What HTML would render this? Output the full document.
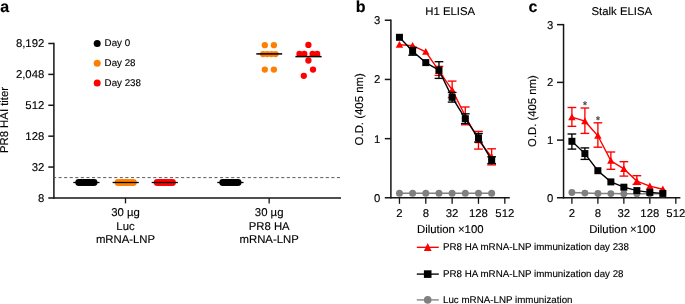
<!DOCTYPE html>
<html><head><meta charset="utf-8"><title>Figure</title>
<style>
html,body{margin:0;padding:0;background:#fff;}
body{width:685px;height:304px;overflow:hidden;}
svg{display:block;will-change:transform;text-rendering:geometricPrecision;font-family:'Liberation Sans', sans-serif;}
</style></head>
<body>
<svg width="685" height="304" viewBox="0 0 685 304">
<rect width="685" height="304" fill="#fff"/>
<text x="0.3" y="12.1" font-size="16" text-anchor="start" font-weight="bold" fill="#000" stroke="#000" stroke-width="0.13">a</text>
<line x1="53.9" y1="42.75" x2="53.9" y2="198.7" stroke="#151515" stroke-width="1.5" />
<line x1="48.3" y1="197.95" x2="341" y2="197.95" stroke="#151515" stroke-width="1.5" />
<line x1="48.3" y1="43.5" x2="53.9" y2="43.5" stroke="#151515" stroke-width="1.5" />
<text x="44.3" y="47.45" font-size="11.35" text-anchor="end" font-weight="normal" fill="#000" stroke="#000" stroke-width="0.13">8,192</text>
<line x1="48.3" y1="74.39" x2="53.9" y2="74.39" stroke="#151515" stroke-width="1.5" />
<text x="44.3" y="78.34" font-size="11.35" text-anchor="end" font-weight="normal" fill="#000" stroke="#000" stroke-width="0.13">2,048</text>
<line x1="48.3" y1="105.28" x2="53.9" y2="105.28" stroke="#151515" stroke-width="1.5" />
<text x="44.3" y="109.23" font-size="11.35" text-anchor="end" font-weight="normal" fill="#000" stroke="#000" stroke-width="0.13">512</text>
<line x1="48.3" y1="136.17" x2="53.9" y2="136.17" stroke="#151515" stroke-width="1.5" />
<text x="44.3" y="140.11999999999998" font-size="11.35" text-anchor="end" font-weight="normal" fill="#000" stroke="#000" stroke-width="0.13">128</text>
<line x1="48.3" y1="167.06" x2="53.9" y2="167.06" stroke="#151515" stroke-width="1.5" />
<text x="44.3" y="171.01" font-size="11.35" text-anchor="end" font-weight="normal" fill="#000" stroke="#000" stroke-width="0.13">32</text>
<text x="44.3" y="201.89999999999998" font-size="11.35" text-anchor="end" font-weight="normal" fill="#000" stroke="#000" stroke-width="0.13">8</text>
<text x="7.8" y="120" font-size="11.35" text-anchor="middle" font-weight="normal" fill="#000" stroke="#000" stroke-width="0.13" transform="rotate(-90 7.8 120)">PR8 HAI titer</text>
<line x1="53.0" y1="177.6" x2="341" y2="177.6" stroke="#4a4a4a" stroke-width="0.9" stroke-dasharray="3.1 2.467"/>
<line x1="125.5" y1="197.95" x2="125.5" y2="203.4" stroke="#151515" stroke-width="1.3" />
<text x="125.5" y="216.15" font-size="11.35" text-anchor="middle" font-weight="normal" fill="#000" stroke="#000" stroke-width="0.13">30 µg</text>
<text x="125.5" y="229.9" font-size="11.35" text-anchor="middle" font-weight="normal" fill="#000" stroke="#000" stroke-width="0.13">Luc</text>
<text x="125.5" y="243.3" font-size="11.35" text-anchor="middle" font-weight="normal" fill="#000" stroke="#000" stroke-width="0.13">mRNA-LNP</text>
<line x1="269.15" y1="197.95" x2="269.15" y2="203.4" stroke="#151515" stroke-width="1.3" />
<text x="269.15" y="216.15" font-size="11.35" text-anchor="middle" font-weight="normal" fill="#000" stroke="#000" stroke-width="0.13">30 µg</text>
<text x="269.15" y="229.9" font-size="11.35" text-anchor="middle" font-weight="normal" fill="#000" stroke="#000" stroke-width="0.13">PR8 HA</text>
<text x="269.15" y="243.3" font-size="11.35" text-anchor="middle" font-weight="normal" fill="#000" stroke="#000" stroke-width="0.13">mRNA-LNP</text>
<circle cx="97.2" cy="43.5" r="3.5" fill="#000"/>
<text x="104.6" y="46.2" font-size="9.75" text-anchor="start" font-weight="normal" fill="#000" stroke="#000" stroke-width="0.13">Day 0</text>
<circle cx="97.2" cy="63.2" r="3.5" fill="#ff8000"/>
<text x="104.6" y="65.9" font-size="9.75" text-anchor="start" font-weight="normal" fill="#000" stroke="#000" stroke-width="0.13">Day 28</text>
<circle cx="97.2" cy="82.9" r="3.5" fill="#ff0000"/>
<text x="104.6" y="85.60000000000001" font-size="9.75" text-anchor="start" font-weight="normal" fill="#000" stroke="#000" stroke-width="0.13">Day 238</text>
<circle cx="78.7" cy="182.5" r="3.4" fill="#000"/>
<circle cx="80.9" cy="182.5" r="3.4" fill="#000"/>
<circle cx="83.1" cy="182.5" r="3.4" fill="#000"/>
<circle cx="85.3" cy="182.5" r="3.4" fill="#000"/>
<circle cx="87.5" cy="182.5" r="3.4" fill="#000"/>
<circle cx="89.7" cy="182.5" r="3.4" fill="#000"/>
<circle cx="91.9" cy="182.5" r="3.4" fill="#000"/>
<circle cx="94.1" cy="182.5" r="3.4" fill="#000"/>
<line x1="73.30000000000001" y1="182.5" x2="99.5" y2="182.5" stroke="#000" stroke-width="1.3" />
<circle cx="118.0" cy="182.5" r="3.4" fill="#ff8000"/>
<circle cx="120.2" cy="182.5" r="3.4" fill="#ff8000"/>
<circle cx="122.4" cy="182.5" r="3.4" fill="#ff8000"/>
<circle cx="124.6" cy="182.5" r="3.4" fill="#ff8000"/>
<circle cx="126.8" cy="182.5" r="3.4" fill="#ff8000"/>
<circle cx="129.0" cy="182.5" r="3.4" fill="#ff8000"/>
<circle cx="131.2" cy="182.5" r="3.4" fill="#ff8000"/>
<circle cx="133.4" cy="182.5" r="3.4" fill="#ff8000"/>
<line x1="112.60000000000001" y1="182.5" x2="138.8" y2="182.5" stroke="#000" stroke-width="1.3" />
<circle cx="157.1" cy="182.5" r="3.4" fill="#ff0000"/>
<circle cx="159.3" cy="182.5" r="3.4" fill="#ff0000"/>
<circle cx="161.5" cy="182.5" r="3.4" fill="#ff0000"/>
<circle cx="163.7" cy="182.5" r="3.4" fill="#ff0000"/>
<circle cx="165.9" cy="182.5" r="3.4" fill="#ff0000"/>
<circle cx="168.1" cy="182.5" r="3.4" fill="#ff0000"/>
<circle cx="170.3" cy="182.5" r="3.4" fill="#ff0000"/>
<circle cx="172.5" cy="182.5" r="3.4" fill="#ff0000"/>
<line x1="151.70000000000002" y1="182.5" x2="177.9" y2="182.5" stroke="#000" stroke-width="1.3" />
<circle cx="222.7" cy="182.5" r="3.4" fill="#000"/>
<circle cx="224.9" cy="182.5" r="3.4" fill="#000"/>
<circle cx="227.1" cy="182.5" r="3.4" fill="#000"/>
<circle cx="229.3" cy="182.5" r="3.4" fill="#000"/>
<circle cx="231.5" cy="182.5" r="3.4" fill="#000"/>
<circle cx="233.7" cy="182.5" r="3.4" fill="#000"/>
<circle cx="235.9" cy="182.5" r="3.4" fill="#000"/>
<circle cx="238.1" cy="182.5" r="3.4" fill="#000"/>
<line x1="217.3" y1="182.5" x2="243.5" y2="182.5" stroke="#000" stroke-width="1.3" />
<circle cx="264.8" cy="45.2" r="3.15" fill="#ff8000"/>
<circle cx="273.9" cy="45.2" r="3.15" fill="#ff8000"/>
<circle cx="263.1" cy="54.1" r="3.15" fill="#ff8000"/>
<circle cx="267.25" cy="54.1" r="3.15" fill="#ff8000"/>
<circle cx="271.4" cy="54.1" r="3.15" fill="#ff8000"/>
<circle cx="275.5" cy="54.1" r="3.15" fill="#ff8000"/>
<circle cx="264.8" cy="69.6" r="3.15" fill="#ff8000"/>
<circle cx="273.9" cy="69.6" r="3.15" fill="#ff8000"/>
<line x1="256.3" y1="53.9" x2="282.2" y2="53.9" stroke="#000" stroke-width="1.5" />
<circle cx="308.4" cy="44.9" r="3.15" fill="#ff0000"/>
<circle cx="299.5" cy="53.95" r="3.15" fill="#ff0000"/>
<circle cx="304.3" cy="53.95" r="3.15" fill="#ff0000"/>
<circle cx="312.6" cy="53.95" r="3.15" fill="#ff0000"/>
<circle cx="317.2" cy="53.95" r="3.15" fill="#ff0000"/>
<circle cx="308.4" cy="60.5" r="3.15" fill="#ff0000"/>
<circle cx="313" cy="69.6" r="3.15" fill="#ff0000"/>
<circle cx="303.8" cy="75.8" r="3.15" fill="#ff0000"/>
<line x1="295.4" y1="56.6" x2="321.6" y2="56.6" stroke="#000" stroke-width="1.5" />
<text x="355.85" y="11.9" font-size="16" text-anchor="start" font-weight="bold" fill="#000" stroke="#000" stroke-width="0.13">b</text>
<text x="450.2" y="15.15" font-size="11.35" text-anchor="middle" font-weight="normal" fill="#000" stroke="#000" stroke-width="0.13">H1 ELISA</text>
<line x1="390.9" y1="19.5" x2="390.9" y2="198.6" stroke="#151515" stroke-width="1.5" />
<line x1="384.8" y1="197.85" x2="509.8" y2="197.85" stroke="#151515" stroke-width="1.5" />
<line x1="384.8" y1="20.25" x2="390.9" y2="20.25" stroke="#151515" stroke-width="1.5" />
<text x="380.4" y="24.2" font-size="11.3" text-anchor="end" font-weight="normal" fill="#000" stroke="#000" stroke-width="0.13">3</text>
<line x1="384.8" y1="79.44999999999999" x2="390.9" y2="79.44999999999999" stroke="#151515" stroke-width="1.5" />
<text x="380.4" y="83.39999999999999" font-size="11.3" text-anchor="end" font-weight="normal" fill="#000" stroke="#000" stroke-width="0.13">2</text>
<line x1="384.8" y1="138.64999999999998" x2="390.9" y2="138.64999999999998" stroke="#151515" stroke-width="1.5" />
<text x="380.4" y="142.59999999999997" font-size="11.3" text-anchor="end" font-weight="normal" fill="#000" stroke="#000" stroke-width="0.13">1</text>
<text x="380.4" y="201.79999999999998" font-size="11.3" text-anchor="end" font-weight="normal" fill="#000" stroke="#000" stroke-width="0.13">0</text>
<text x="363.45" y="109.3" font-size="11.4" text-anchor="middle" font-weight="normal" fill="#000" stroke="#000" stroke-width="0.13" transform="rotate(-90 363.45 109.3)">O.D. (405 nm)</text>
<line x1="399.45" y1="197.85" x2="399.45" y2="203.8" stroke="#151515" stroke-width="1.3" />
<text x="399.45" y="216.9" font-size="11.35" text-anchor="middle" font-weight="normal" fill="#000" stroke="#000" stroke-width="0.13">2</text>
<line x1="425.78999999999996" y1="197.85" x2="425.78999999999996" y2="203.8" stroke="#151515" stroke-width="1.3" />
<text x="425.78999999999996" y="216.9" font-size="11.35" text-anchor="middle" font-weight="normal" fill="#000" stroke="#000" stroke-width="0.13">8</text>
<line x1="452.13" y1="197.85" x2="452.13" y2="203.8" stroke="#151515" stroke-width="1.3" />
<text x="452.13" y="216.9" font-size="11.35" text-anchor="middle" font-weight="normal" fill="#000" stroke="#000" stroke-width="0.13">32</text>
<line x1="478.46999999999997" y1="197.85" x2="478.46999999999997" y2="203.8" stroke="#151515" stroke-width="1.3" />
<text x="478.46999999999997" y="216.9" font-size="11.35" text-anchor="middle" font-weight="normal" fill="#000" stroke="#000" stroke-width="0.13">128</text>
<line x1="504.81" y1="197.85" x2="504.81" y2="203.8" stroke="#151515" stroke-width="1.3" />
<text x="504.81" y="216.9" font-size="11.35" text-anchor="middle" font-weight="normal" fill="#000" stroke="#000" stroke-width="0.13">512</text>
<text x="450.3" y="233.4" font-size="11.35" text-anchor="middle" font-weight="normal" fill="#000" stroke="#000" stroke-width="0.13">Dilution ×100</text>
<polyline points="399.45,193.15 491.64,193.15" fill="none" stroke="#808080" stroke-width="1.5"/>
<circle cx="399.45" cy="193.15" r="3.5" fill="#808080"/>
<circle cx="412.62" cy="193.15" r="3.5" fill="#808080"/>
<circle cx="425.78999999999996" cy="193.15" r="3.5" fill="#808080"/>
<circle cx="438.96" cy="193.15" r="3.5" fill="#808080"/>
<circle cx="452.13" cy="193.15" r="3.5" fill="#808080"/>
<circle cx="465.29999999999995" cy="193.15" r="3.5" fill="#808080"/>
<circle cx="478.46999999999997" cy="193.15" r="3.5" fill="#808080"/>
<circle cx="491.64" cy="193.15" r="3.5" fill="#808080"/>
<polyline points="399.45,44.7 412.62,45.6 425.78999999999996,51.8 438.96,70.9 452.13,89.9 465.29999999999995,116.0 478.46999999999997,140.2 491.64,157.0" fill="none" stroke="#ff0000" stroke-width="1.4"/>
<line x1="438.96" y1="66.4" x2="438.96" y2="75.4" stroke="#ff0000" stroke-width="1.35" />
<line x1="434.60999999999996" y1="66.4" x2="443.31" y2="66.4" stroke="#ff0000" stroke-width="1.35" />
<line x1="434.60999999999996" y1="75.4" x2="443.31" y2="75.4" stroke="#ff0000" stroke-width="1.35" />
<line x1="452.13" y1="81.1" x2="452.13" y2="97.5" stroke="#ff0000" stroke-width="1.35" />
<line x1="447.78" y1="81.1" x2="456.48" y2="81.1" stroke="#ff0000" stroke-width="1.35" />
<line x1="447.78" y1="97.5" x2="456.48" y2="97.5" stroke="#ff0000" stroke-width="1.35" />
<line x1="465.29999999999995" y1="107.0" x2="465.29999999999995" y2="124.8" stroke="#ff0000" stroke-width="1.35" />
<line x1="460.94999999999993" y1="107.0" x2="469.65" y2="107.0" stroke="#ff0000" stroke-width="1.35" />
<line x1="460.94999999999993" y1="124.8" x2="469.65" y2="124.8" stroke="#ff0000" stroke-width="1.35" />
<line x1="478.46999999999997" y1="131.4" x2="478.46999999999997" y2="149.1" stroke="#ff0000" stroke-width="1.35" />
<line x1="474.11999999999995" y1="131.4" x2="482.82" y2="131.4" stroke="#ff0000" stroke-width="1.35" />
<line x1="474.11999999999995" y1="149.1" x2="482.82" y2="149.1" stroke="#ff0000" stroke-width="1.35" />
<line x1="491.64" y1="148.8" x2="491.64" y2="164.9" stroke="#ff0000" stroke-width="1.35" />
<line x1="487.28999999999996" y1="148.8" x2="495.99" y2="148.8" stroke="#ff0000" stroke-width="1.35" />
<line x1="487.28999999999996" y1="164.9" x2="495.99" y2="164.9" stroke="#ff0000" stroke-width="1.35" />
<polygon points="399.45,41.00 395.75,47.75 403.15,47.75" fill="#ff0000"/>
<polygon points="412.62,41.90 408.92,48.65 416.32,48.65" fill="#ff0000"/>
<polygon points="425.79,48.10 422.09,54.85 429.49,54.85" fill="#ff0000"/>
<polygon points="438.96,67.20 435.26,73.95 442.66,73.95" fill="#ff0000"/>
<polygon points="452.13,86.20 448.43,92.95 455.83,92.95" fill="#ff0000"/>
<polygon points="465.30,112.30 461.60,119.05 469.00,119.05" fill="#ff0000"/>
<polygon points="478.47,136.50 474.77,143.25 482.17,143.25" fill="#ff0000"/>
<polygon points="491.64,153.30 487.94,160.05 495.34,160.05" fill="#ff0000"/>
<polyline points="399.45,37.3 412.62,51.35 425.78999999999996,62.6 438.96,70.2 452.13,97.3 465.29999999999995,118.7 478.46999999999997,137.9 491.64,160.2" fill="none" stroke="#000" stroke-width="1.4"/>
<line x1="412.62" y1="47.5" x2="412.62" y2="55.2" stroke="#000" stroke-width="1.35" />
<line x1="408.27" y1="47.5" x2="416.97" y2="47.5" stroke="#000" stroke-width="1.35" />
<line x1="408.27" y1="55.2" x2="416.97" y2="55.2" stroke="#000" stroke-width="1.35" />
<line x1="438.96" y1="61.7" x2="438.96" y2="78.4" stroke="#000" stroke-width="1.35" />
<line x1="434.60999999999996" y1="61.7" x2="443.31" y2="61.7" stroke="#000" stroke-width="1.35" />
<line x1="434.60999999999996" y1="78.4" x2="443.31" y2="78.4" stroke="#000" stroke-width="1.35" />
<line x1="452.13" y1="92.4" x2="452.13" y2="102.1" stroke="#000" stroke-width="1.35" />
<line x1="447.78" y1="92.4" x2="456.48" y2="92.4" stroke="#000" stroke-width="1.35" />
<line x1="447.78" y1="102.1" x2="456.48" y2="102.1" stroke="#000" stroke-width="1.35" />
<line x1="465.29999999999995" y1="113.8" x2="465.29999999999995" y2="123.6" stroke="#000" stroke-width="1.35" />
<line x1="460.94999999999993" y1="113.8" x2="469.65" y2="113.8" stroke="#000" stroke-width="1.35" />
<line x1="460.94999999999993" y1="123.6" x2="469.65" y2="123.6" stroke="#000" stroke-width="1.35" />
<line x1="478.46999999999997" y1="133.5" x2="478.46999999999997" y2="142.1" stroke="#000" stroke-width="1.35" />
<line x1="474.11999999999995" y1="133.5" x2="482.82" y2="133.5" stroke="#000" stroke-width="1.35" />
<line x1="474.11999999999995" y1="142.1" x2="482.82" y2="142.1" stroke="#000" stroke-width="1.35" />
<line x1="491.64" y1="156.8" x2="491.64" y2="163.6" stroke="#000" stroke-width="1.35" />
<line x1="487.28999999999996" y1="156.8" x2="495.99" y2="156.8" stroke="#000" stroke-width="1.35" />
<line x1="487.28999999999996" y1="163.6" x2="495.99" y2="163.6" stroke="#000" stroke-width="1.35" />
<rect x="395.95" y="33.80" width="7.0" height="7.0" fill="#000"/>
<rect x="409.12" y="47.85" width="7.0" height="7.0" fill="#000"/>
<rect x="422.29" y="59.10" width="7.0" height="7.0" fill="#000"/>
<rect x="435.46" y="66.70" width="7.0" height="7.0" fill="#000"/>
<rect x="448.63" y="93.80" width="7.0" height="7.0" fill="#000"/>
<rect x="461.80" y="115.20" width="7.0" height="7.0" fill="#000"/>
<rect x="474.97" y="134.40" width="7.0" height="7.0" fill="#000"/>
<rect x="488.14" y="156.70" width="7.0" height="7.0" fill="#000"/>
<text x="528.6" y="12.0" font-size="16" text-anchor="start" font-weight="bold" fill="#000" stroke="#000" stroke-width="0.13">c</text>
<text x="621.8" y="15.2" font-size="11.35" text-anchor="middle" font-weight="normal" fill="#000" stroke="#000" stroke-width="0.13">Stalk ELISA</text>
<line x1="563.55" y1="23.9" x2="563.55" y2="198.6" stroke="#151515" stroke-width="1.5" />
<line x1="557.0" y1="197.85" x2="680.4" y2="197.85" stroke="#151515" stroke-width="1.5" />
<line x1="557.0" y1="24.65" x2="563.55" y2="24.65" stroke="#151515" stroke-width="1.5" />
<text x="553.3" y="28.599999999999998" font-size="11.3" text-anchor="end" font-weight="normal" fill="#000" stroke="#000" stroke-width="0.13">3</text>
<line x1="557.0" y1="82.38333333333333" x2="563.55" y2="82.38333333333333" stroke="#151515" stroke-width="1.5" />
<text x="553.3" y="86.33333333333333" font-size="11.3" text-anchor="end" font-weight="normal" fill="#000" stroke="#000" stroke-width="0.13">2</text>
<line x1="557.0" y1="140.11666666666665" x2="563.55" y2="140.11666666666665" stroke="#151515" stroke-width="1.5" />
<text x="553.3" y="144.06666666666663" font-size="11.3" text-anchor="end" font-weight="normal" fill="#000" stroke="#000" stroke-width="0.13">1</text>
<text x="553.3" y="201.79999999999995" font-size="11.3" text-anchor="end" font-weight="normal" fill="#000" stroke="#000" stroke-width="0.13">0</text>
<text x="536.15" y="111.1" font-size="11.3" text-anchor="middle" font-weight="normal" fill="#000" stroke="#000" stroke-width="0.13" transform="rotate(-90 536.15 111.1)">O.D. (405 nm)</text>
<line x1="571.9" y1="197.85" x2="571.9" y2="203.8" stroke="#151515" stroke-width="1.3" />
<text x="571.9" y="216.9" font-size="11.35" text-anchor="middle" font-weight="normal" fill="#000" stroke="#000" stroke-width="0.13">2</text>
<line x1="597.88" y1="197.85" x2="597.88" y2="203.8" stroke="#151515" stroke-width="1.3" />
<text x="597.88" y="216.9" font-size="11.35" text-anchor="middle" font-weight="normal" fill="#000" stroke="#000" stroke-width="0.13">8</text>
<line x1="623.86" y1="197.85" x2="623.86" y2="203.8" stroke="#151515" stroke-width="1.3" />
<text x="623.86" y="216.9" font-size="11.35" text-anchor="middle" font-weight="normal" fill="#000" stroke="#000" stroke-width="0.13">32</text>
<line x1="649.8399999999999" y1="197.85" x2="649.8399999999999" y2="203.8" stroke="#151515" stroke-width="1.3" />
<text x="649.8399999999999" y="216.9" font-size="11.35" text-anchor="middle" font-weight="normal" fill="#000" stroke="#000" stroke-width="0.13">128</text>
<line x1="675.8199999999999" y1="197.85" x2="675.8199999999999" y2="203.8" stroke="#151515" stroke-width="1.3" />
<text x="675.8199999999999" y="216.9" font-size="11.35" text-anchor="middle" font-weight="normal" fill="#000" stroke="#000" stroke-width="0.13">512</text>
<text x="622.4" y="233.4" font-size="11.35" text-anchor="middle" font-weight="normal" fill="#000" stroke="#000" stroke-width="0.13">Dilution ×100</text>
<polyline points="571.9,192.55 584.89,193.1 597.88,193.5 610.87,193.6 623.86,193.7 636.85,193.7 649.8399999999999,193.7 662.8299999999999,193.7" fill="none" stroke="#808080" stroke-width="1.5"/>
<circle cx="571.9" cy="192.55" r="3.45" fill="#808080"/>
<circle cx="584.89" cy="193.1" r="3.45" fill="#808080"/>
<circle cx="597.88" cy="193.5" r="3.45" fill="#808080"/>
<circle cx="610.87" cy="193.6" r="3.45" fill="#808080"/>
<circle cx="623.86" cy="193.7" r="3.45" fill="#808080"/>
<circle cx="636.85" cy="193.7" r="3.45" fill="#808080"/>
<circle cx="649.8399999999999" cy="193.7" r="3.45" fill="#808080"/>
<circle cx="662.8299999999999" cy="193.7" r="3.45" fill="#808080"/>
<polyline points="571.9,117.2 584.89,121.2 597.88,135.8 610.87,160.8 623.86,168.9 636.85,181.1 649.8399999999999,186.2 662.8299999999999,189.3" fill="none" stroke="#ff0000" stroke-width="1.4"/>
<line x1="571.9" y1="107.5" x2="571.9" y2="126.3" stroke="#ff0000" stroke-width="1.35" />
<line x1="567.55" y1="107.5" x2="576.25" y2="107.5" stroke="#ff0000" stroke-width="1.35" />
<line x1="567.55" y1="126.3" x2="576.25" y2="126.3" stroke="#ff0000" stroke-width="1.35" />
<line x1="584.89" y1="108.0" x2="584.89" y2="133.4" stroke="#ff0000" stroke-width="1.35" />
<line x1="580.54" y1="108.0" x2="589.24" y2="108.0" stroke="#ff0000" stroke-width="1.35" />
<line x1="580.54" y1="133.4" x2="589.24" y2="133.4" stroke="#ff0000" stroke-width="1.35" />
<line x1="597.88" y1="122.8" x2="597.88" y2="147.2" stroke="#ff0000" stroke-width="1.35" />
<line x1="593.53" y1="122.8" x2="602.23" y2="122.8" stroke="#ff0000" stroke-width="1.35" />
<line x1="593.53" y1="147.2" x2="602.23" y2="147.2" stroke="#ff0000" stroke-width="1.35" />
<line x1="610.87" y1="152.0" x2="610.87" y2="169.3" stroke="#ff0000" stroke-width="1.35" />
<line x1="606.52" y1="152.0" x2="615.22" y2="152.0" stroke="#ff0000" stroke-width="1.35" />
<line x1="606.52" y1="169.3" x2="615.22" y2="169.3" stroke="#ff0000" stroke-width="1.35" />
<line x1="623.86" y1="161.7" x2="623.86" y2="176.1" stroke="#ff0000" stroke-width="1.35" />
<line x1="619.51" y1="161.7" x2="628.21" y2="161.7" stroke="#ff0000" stroke-width="1.35" />
<line x1="619.51" y1="176.1" x2="628.21" y2="176.1" stroke="#ff0000" stroke-width="1.35" />
<line x1="636.85" y1="175.7" x2="636.85" y2="184.4" stroke="#ff0000" stroke-width="1.35" />
<line x1="632.5" y1="175.7" x2="641.2" y2="175.7" stroke="#ff0000" stroke-width="1.35" />
<line x1="632.5" y1="184.4" x2="641.2" y2="184.4" stroke="#ff0000" stroke-width="1.35" />
<polygon points="571.90,113.50 568.20,120.25 575.60,120.25" fill="#ff0000"/>
<polygon points="584.89,117.50 581.19,124.25 588.59,124.25" fill="#ff0000"/>
<polygon points="597.88,132.10 594.18,138.85 601.58,138.85" fill="#ff0000"/>
<polygon points="610.87,157.10 607.17,163.85 614.57,163.85" fill="#ff0000"/>
<polygon points="623.86,165.20 620.16,171.95 627.56,171.95" fill="#ff0000"/>
<polygon points="636.85,177.40 633.15,184.15 640.55,184.15" fill="#ff0000"/>
<polygon points="649.84,182.50 646.14,189.25 653.54,189.25" fill="#ff0000"/>
<polygon points="662.83,185.60 659.13,192.35 666.53,192.35" fill="#ff0000"/>
<polyline points="571.9,141.3 584.89,153.6 597.88,170.7 610.87,181.9 623.86,187.2 636.85,190.6 649.8399999999999,192.35 662.8299999999999,193.4" fill="none" stroke="#000" stroke-width="1.4"/>
<line x1="571.9" y1="134.0" x2="571.9" y2="149.1" stroke="#000" stroke-width="1.35" />
<line x1="567.55" y1="134.0" x2="576.25" y2="134.0" stroke="#000" stroke-width="1.35" />
<line x1="567.55" y1="149.1" x2="576.25" y2="149.1" stroke="#000" stroke-width="1.35" />
<line x1="584.89" y1="147.9" x2="584.89" y2="159.4" stroke="#000" stroke-width="1.35" />
<line x1="580.54" y1="147.9" x2="589.24" y2="147.9" stroke="#000" stroke-width="1.35" />
<line x1="580.54" y1="159.4" x2="589.24" y2="159.4" stroke="#000" stroke-width="1.35" />
<rect x="568.40" y="137.80" width="7.0" height="7.0" fill="#000"/>
<rect x="581.39" y="150.10" width="7.0" height="7.0" fill="#000"/>
<rect x="594.38" y="167.20" width="7.0" height="7.0" fill="#000"/>
<rect x="607.37" y="178.40" width="7.0" height="7.0" fill="#000"/>
<rect x="620.36" y="183.70" width="7.0" height="7.0" fill="#000"/>
<rect x="633.35" y="187.10" width="7.0" height="7.0" fill="#000"/>
<rect x="646.34" y="188.85" width="7.0" height="7.0" fill="#000"/>
<rect x="659.33" y="189.90" width="7.0" height="7.0" fill="#000"/>
<text x="584.99" y="108.95" font-size="11.4" text-anchor="middle" font-weight="normal" fill="#333" stroke="#333" stroke-width="0.13">*</text>
<text x="597.98" y="123.95" font-size="11.4" text-anchor="middle" font-weight="normal" fill="#333" stroke="#333" stroke-width="0.13">*</text>
<line x1="416.8" y1="247.3" x2="438.8" y2="247.3" stroke="#ff0000" stroke-width="1.35" />
<polygon points="427.70,243.00 423.85,250.95 431.55,250.95" fill="#ff0000"/>
<text x="443" y="250.05" font-size="9.77" text-anchor="start" font-weight="normal" fill="#000" stroke="#000" stroke-width="0.13">PR8 HA mRNA-LNP immunization day 238</text>
<line x1="416.8" y1="274.1" x2="438.8" y2="274.1" stroke="#000" stroke-width="1.35" />
<rect x="423.90" y="270.30" width="7.6" height="7.6" fill="#000"/>
<text x="443" y="277.25" font-size="9.77" text-anchor="start" font-weight="normal" fill="#000" stroke="#000" stroke-width="0.13">PR8 HA mRNA-LNP immunization day 28</text>
<line x1="416.8" y1="299.9" x2="438.8" y2="299.9" stroke="#808080" stroke-width="1.35" />
<circle cx="427.7" cy="299.9" r="3.8" fill="#808080"/>
<text x="443" y="302.5" font-size="9.77" text-anchor="start" font-weight="normal" fill="#000" stroke="#000" stroke-width="0.13">Luc mRNA-LNP immunization</text>
</svg>
</body></html>
